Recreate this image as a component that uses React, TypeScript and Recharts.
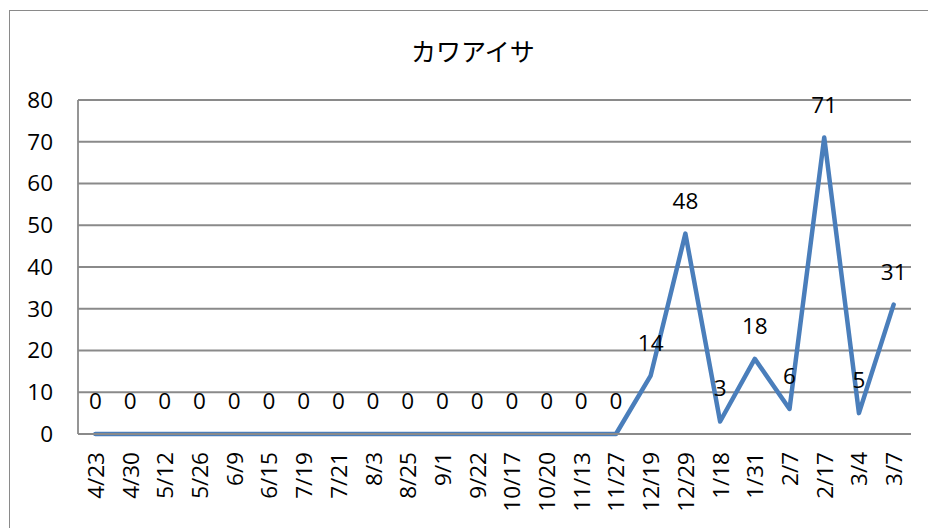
import React from 'react';
import { LineChart, Line, XAxis, YAxis, CartesianGrid, LabelList } from 'recharts';

// Survey dates (one count per visit)
const dates = [
  '4/23', '4/30', '5/12', '5/26', '6/9', '6/15', '7/19', '7/21', '8/3', '8/25', '9/1', '9/22',
  '10/17', '10/20', '11/13', '11/27', '12/19', '12/29', '1/18', '1/31', '2/7', '2/17', '3/4', '3/7',
];

// Number of birds counted on each date
const counts = [
  0, 0, 0, 0, 0, 0, 0, 0, 0, 0, 0, 0,
  0, 0, 0, 0, 14, 48, 3, 18, 6, 71, 5, 31,
];

const yTicks = [0, 10, 20, 30, 40, 50, 60, 70, 80];

const title = 'カワアイサ';

const data = dates.map((d, i) => ({ date: d, count: counts[i] }));

const FONT = '"Open Sans", "Noto Sans", "Liberation Sans", sans-serif';
const GRID = '#8a8a8a';
const LINE = '#4a7ebb';

// Plot width split into equal slots; each point sits in the middle of its slot
const PLOT_W = 833;
const HALF_SLOT = PLOT_W / dates.length / 2;

const DateTick = (props: any) => {
  const { x, y, payload } = props;
  return (
    <text
      x={x}
      y={y}
      transform={`rotate(-90, ${x}, ${y})`}
      textAnchor="end"
      dominantBaseline="central"
      fontFamily={FONT}
      fontSize={22.5}
      fill="#000"
    >
      {payload.value}
    </text>
  );
};

export default function App() {
  return (
    <div style={{ position: 'absolute', left: 0, top: 0, width: 928, height: 528, overflow: 'hidden', background: '#fff' }}>
      <div
        style={{
          position: 'absolute',
          left: 9,
          top: 10,
          width: 940,
          height: 540,
          borderLeft: `1.5px solid ${GRID}`,
          borderTop: `1.5px solid ${GRID}`,
        }}
      />
      <div
        style={{
          position: 'absolute',
          left: 373,
          width: 200,
          top: 33,
          textAlign: 'center',
          fontFamily: '"Noto Sans CJK JP", sans-serif',
          fontSize: 25,
          lineHeight: '34px',
          color: '#000',
        }}
      >
        {title}
      </div>
      <div style={{ position: 'absolute', left: 0, top: 0 }}>
        <LineChart
          width={928}
          height={528}
          data={data}
          margin={{ top: 100, right: 17, bottom: 0, left: 0 }}
        >
          <CartesianGrid vertical={false} stroke={GRID} strokeWidth={1.8} />
          <XAxis
            dataKey="date"
            interval={0}
            height={94}
            padding={{ left: HALF_SLOT, right: HALF_SLOT }}
            tickSize={0}
            tickMargin={18}
            tickLine={false}
            axisLine={{ stroke: GRID, strokeWidth: 1.8 }}
            tick={<DateTick />}
          />
          <YAxis
            domain={[0, 80]}
            ticks={yTicks}
            width={78}
            tickSize={0}
            tickMargin={25}
            tickLine={false}
            axisLine={{ stroke: GRID, strokeWidth: 1.8 }}
            tick={{ fontFamily: FONT, fontSize: 22.5, fill: '#000' }}
          />
          <Line
            type="linear"
            dataKey="count"
            stroke={LINE}
            strokeWidth={4.5}
            strokeLinejoin="round"
            strokeLinecap="round"
            dot={false}
            activeDot={false}
            isAnimationActive={false}
          >
            <LabelList
              dataKey="count"
              position="top"
              offset={25}
              style={{ fontFamily: FONT, fontSize: 22.5, fill: '#000' }}
            />
          </Line>
        </LineChart>
      </div>
    </div>
  );
}
